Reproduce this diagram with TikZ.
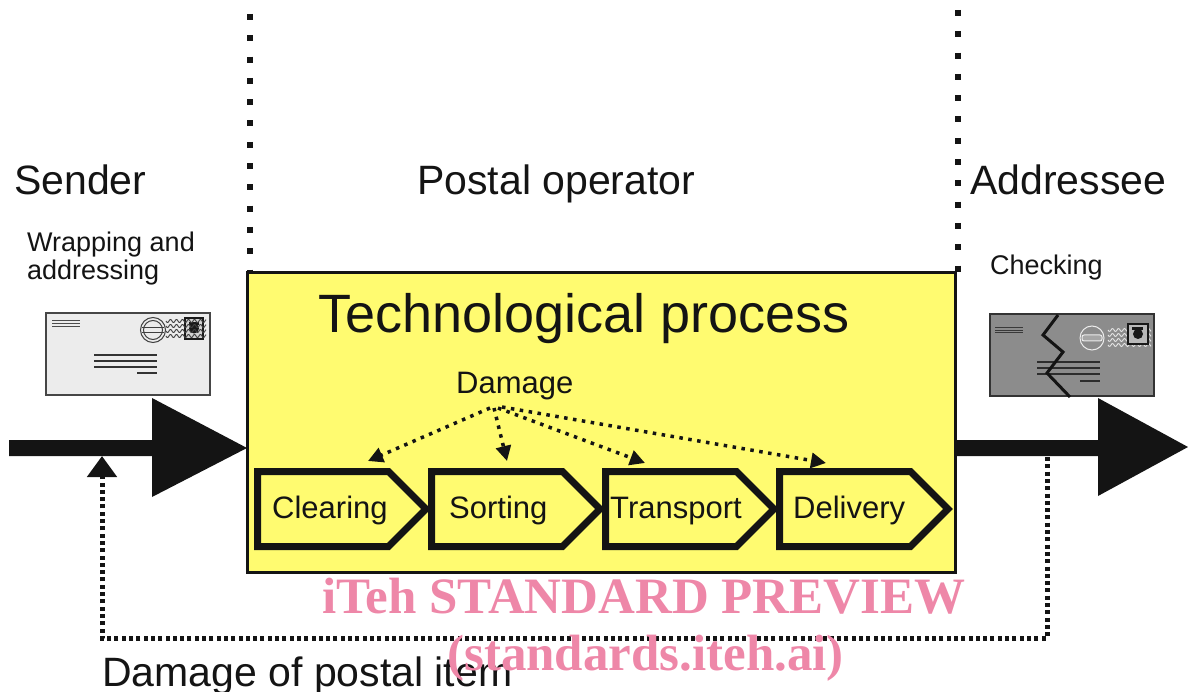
\documentclass[tikz,border=0pt]{standalone}
\usepackage{fontspec}
\setmainfont{Liberation Sans}
\newfontfamily\wmfont{Liberation Serif}
\usetikzlibrary{arrows.meta,calc}
\definecolor{procyellow}{RGB}{255,251,112}
\definecolor{envlight}{RGB}{236,236,236}
\definecolor{envdark}{RGB}{140,140,140}
\definecolor{wmpink}{RGB}{238,135,168}
\definecolor{ink}{RGB}{20,20,20}
\begin{document}
\begin{tikzpicture}[x=1pt,y=-1pt,
  lbl/.style={anchor=base west, inner sep=0pt, text=ink},
  bigtxt/.style={lbl, font=\fontsize{41}{41}\selectfont},
  titletxt/.style={lbl, font=\fontsize{54}{54}\selectfont},
  midtxt/.style={lbl, font=\fontsize{31}{31}\selectfont},
  smalltxt/.style={lbl, font=\fontsize{27}{27}\selectfont},
  chev/.style={draw=ink, line width=7pt, line join=miter},
  sepline/.style={draw=ink, line width=5.5pt, dash pattern=on 6pt off 15.3pt},
  dmg/.style={draw=ink, line width=3.5pt, dash pattern=on 3.5pt off 5.5pt, -{Triangle[length=15pt,width=15pt]}},
  fbline/.style={draw=ink, line width=5pt, dash pattern=on 4pt off 3.3pt, -{Triangle[length=21pt,width=29pt]}},
  bigarrow/.style={fill=ink},
  wm/.style={anchor=base west, inner sep=0pt, text=wmpink, font=\wmfont\bfseries\fontsize{51}{51}\selectfont},
]
\useasboundingbox (0,0) rectangle (1188,692);

% separators
\draw[sepline] (250,14) -- (250,272);
\draw[sepline] (958,10) -- (958,272);

% headings
\node[bigtxt] (sender) at (14,195) {Sender};
\node[bigtxt] (operator) at (417,195) {Postal operator};
\node[bigtxt] (addressee) at (970,195) {Addressee};
\node[smalltxt] (wrap1) at (27,252) {Wrapping and};
\node[smalltxt] (wrap2) at (27,280) {addressing};
\node[smalltxt] (check) at (990,275) {Checking};

% process box
\draw[fill=procyellow, draw=ink, line width=3pt] (247.5,272.5) rectangle (955,572);
\node[titletxt] (tech) at (318,333) {Technological process};
\node[midtxt] (damage) at (456,393) {Damage};

% chevrons
\foreach \lx/\nm/\txt/\tx in {254/clr/Clearing/272, 428/srt/Sorting/449, 602/trn/Transport/610, 776/dlv/Delivery/793}{
  \pgfmathsetmacro\cx{\lx+3.5}
  \draw[chev] (\cx,471.5) -- ({\cx+131},471.5) -- ({\cx+168.5},509) -- ({\cx+131},546.5) -- (\cx,546.5) -- cycle;
  \node[midtxt] (\nm) at (\tx,518) {\txt};
}

% damage arrows
\coordinate (dsrc) at (494,408);
\coordinate (tclr) at (368,461);
\coordinate (tsrt) at (507,461);
\coordinate (ttrn) at (645,463);
\coordinate (tdlv) at (826,463);
\draw[dmg] ($(dsrc)+(-4,0)$) -- (tclr);
\draw[dmg] (dsrc) -- (tsrt);
\draw[dmg] ($(dsrc)+(4,0)$) -- (ttrn);
\draw[dmg] ($(dsrc)+(8,-1)$) -- (tdlv);

% big arrows
\fill[bigarrow] (9,440) -- (152,440) -- (152,398) -- (247,448) -- (152,497) -- (152,456) -- (9,456) -- cycle;
\fill[bigarrow] (955,440) -- (1098,440) -- (1098,398) -- (1188,447) -- (1098,496) -- (1098,456) -- (955,456) -- cycle;

% feedback loop
\coordinate (fbstart) at (1047,457);
\coordinate (fbend) at (102,456);
\draw[fbline] (fbstart) -- ++(0,181) -| (fbend);
\node[bigtxt] (dmgitem) at (102,686) {Damage of postal item};

% left envelope
\draw[fill=envlight, draw=gray!55!black, line width=1.5pt] (46,313) rectangle (210,395);
\foreach \yy in {321,324,327} \draw[gray!60!black, line width=1pt] (52,\yy) -- (80,\yy);
\foreach \yy in {355,361,367} \draw[gray!40!black, line width=1.5pt] (94,\yy) -- (157,\yy);
\draw[gray!40!black, line width=1.5pt] (137,373) -- (157,373);
\draw[gray!50!black, line width=1pt] (153,330) circle[radius=12.5pt] (153,330) circle[radius=9.5pt];
\draw[gray!50!black, line width=1pt] (142,327.5) -- (164,327.5) (142,332.5) -- (164,332.5);
\draw[fill=gray!35, draw=gray!20!black, line width=1.2pt] (185,318) rectangle (203,339);
\fill[gray!20!black] (194,328.5) circle[radius=5pt];
\fill[gray!20!black] (189,322) rectangle (199,325);
\foreach \yy in {321,326,331,336}
  \draw[gray!50!black, line width=0.9pt] plot[domain=166:206, samples=41, smooth] (\x, {\yy+1.6*sin((\x-166)*60)});

% right envelope
\draw[fill=envdark, draw=gray!40!black, line width=1.5pt] (990,314) rectangle (1154,396);
\foreach \yy in {328,330.5,333} \draw[gray!45!black, line width=1pt] (995,\yy) -- (1023,\yy);
\foreach \yy in {362,368,374} \draw[gray!35!black, line width=1.5pt] (1037,\yy) -- (1100,\yy);
\draw[gray!35!black, line width=1.5pt] (1080,381) -- (1100,381);
\draw[gray!15, line width=1pt] (1092,338) circle[radius=12pt];
\draw[gray!15, fill=gray!70, line width=1pt, rounded corners=2pt] (1082,335) rectangle (1102,341);
\foreach \yy in {330,335,340,345}
  \draw[gray!20, line width=0.9pt] plot[domain=1108:1151, samples=43, smooth] (\x, {\yy+1.5*sin((\x-1108)*60)});
\draw[fill=gray!55, draw=gray!20!black, line width=1.2pt] (1128,324) rectangle (1148,344);
\fill[gray!20!black] (1138,334) circle[radius=5pt];
\fill[gray!20!black] (1132,327) rectangle (1143,330);
\draw[ink, line width=3pt, line join=miter] (1058,315) -- (1043,335) -- (1063,352) -- (1047,373) -- (1070,397);

% watermark
\node[wm] (wm1) at (322,613) {iTeh STANDARD PREVIEW};
\node[wm] (wm2) at (447,670) {(standards.iteh.ai)};
\end{tikzpicture}
\end{document}
